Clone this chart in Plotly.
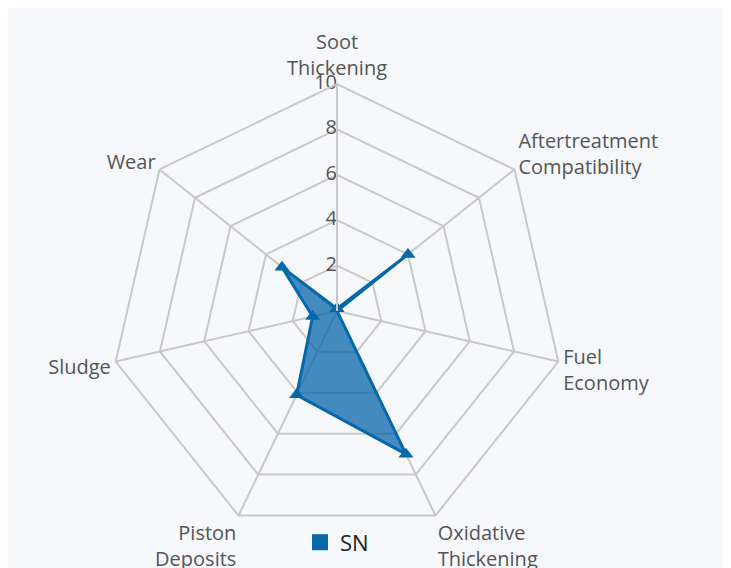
import plotly.graph_objects as go

categories = ["Soot<br>Thickening", "Aftertreatment<br>Compatibility", "Fuel<br>Economy",
              "Oxidative<br>Thickening", "Piston<br>Deposits", "Sludge", "Wear"]
sn_values = [0.1, 4.0, 0.0, 7.0, 4.1, 1.1, 3.1]
tick_values = [2, 4, 6, 8, 10]

blue = "#0767ab"

fig = go.Figure()
fig.add_trace(go.Scatterpolar(
    r=sn_values + [sn_values[0]],
    theta=categories + [categories[0]],
    name="SN",
    mode="lines+markers",
    fill="toself",
    fillcolor="rgba(7,103,171,0.75)",
    line=dict(color=blue, width=3),
    marker=dict(symbol="triangle-up", size=13, color=blue),
    showlegend=False,
))
# radial tick labels, drawn upright along the top spoke
fig.add_trace(go.Scatterpolar(
    r=tick_values,
    theta=[categories[0]] * len(tick_values),
    mode="text",
    text=[str(v) for v in tick_values],
    textposition="middle left",
    textfont=dict(size=20, color="#555"),
    showlegend=False,
    hoverinfo="skip",
))
# legend entry with square swatch
fig.add_trace(go.Scatterpolar(
    r=[None], theta=[categories[0]], name="SN", mode="markers",
    marker=dict(symbol="square", size=22, color=blue),
))

fig.update_layout(
    width=731, height=568,
    paper_bgcolor="#f6f8fc",
    font=dict(family="Open Sans", size=20, color="#555"),
    margin=dict(l=101, r=174, t=76, b=36),
    polar=dict(
        bgcolor="#f6f8fc",
        gridshape="linear",
        angularaxis=dict(direction="clockwise", rotation=90,
                         gridcolor="#c8c8c8", linecolor="#c8c8c8", linewidth=2,
                         gridwidth=2, ticks="", tickfont=dict(size=20, color="#555")),
        radialaxis=dict(range=[0, 10], tickvals=tick_values, angle=90,
                        showticklabels=False, gridcolor="#c8c8c8", gridwidth=2,
                        linecolor="#c8c8c8", linewidth=2, showline=True, ticks=""),
    ),
    showlegend=True,
    legend=dict(orientation="h", x=0.5, xanchor="center", y=-0.01, yanchor="middle",
                bgcolor="rgba(0,0,0,0)", font=dict(size=22, color="#222")),
)

fig.write_html("out.html")
